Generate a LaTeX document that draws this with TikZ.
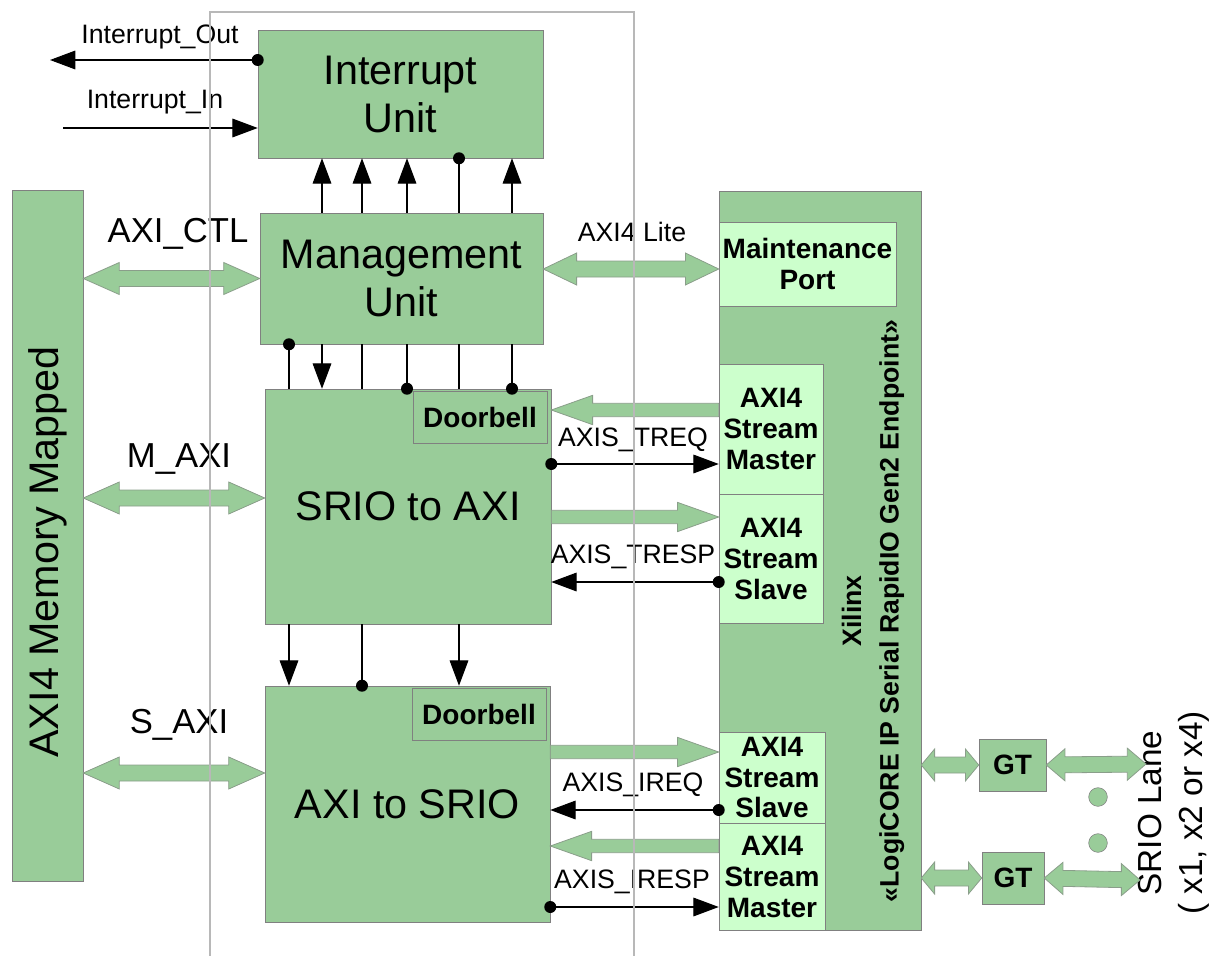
\documentclass[tikz,border=0pt]{standalone}
\usepackage{fontspec}
\setmainfont{Liberation Sans}
\usetikzlibrary{arrows.meta, positioning, calc}

\definecolor{blockgreen}{HTML}{99CC99}
\definecolor{portgreen}{HTML}{CCFFCC}
\definecolor{edgegray}{HTML}{808080}

% fat bus arrow, heads at both ends
\newcommand{\bothway}[3][27pt]{%
  \path[bus] let \p1=(#2), \p2=(#3), \p3=($(\p1)!#1!(\p2)$), \p4=($(\p2)!#1!(\p1)$) in
    (\p1) -- (\x3,\y3+12pt) -- (\x3,\y3+6pt) -- (\x4,\y4+6pt) -- (\x4,\y4+12pt) -- (\p2)
    -- (\x4,\y4-12pt) -- (\x4,\y4-6pt) -- (\x3,\y3-6pt) -- (\x3,\y3-12pt) -- cycle;}
% fat bus arrow, head at the second end
\newcommand{\oneway}[3][31pt]{%
  \path[bus] let \p1=(#2), \p2=(#3), \p3=($(\p2)!#1!(\p1)$) in
    (\x1,\y1+5pt) -- (\x3,\y3+5pt) -- (\x3,\y3+11pt) -- (\p2)
    -- (\x3,\y3-11pt) -- (\x3,\y3-5pt) -- (\x1,\y1-5pt) -- cycle;}

\begin{document}
\begin{tikzpicture}[
x=0.75pt, y=-0.75pt,
block/.style={draw=edgegray, fill=blockgreen, inner sep=0pt, align=center, font=\fontsize{31}{36}\selectfont},
port/.style={draw=edgegray, fill=portgreen, inner sep=0pt, align=center, font=\bfseries\fontsize{21}{23}\selectfont},
bus/.style={draw=edgegray!60!blockgreen, fill=blockgreen, line width=0.6pt},
wire/.style={draw=black, line width=0.8pt},
arr/.style={-{Triangle[length=19pt, width=14pt]}},
lbl/.style={inner sep=0pt, font=\fontsize{20}{24}\selectfont},
biglbl/.style={inner sep=0pt, font=\fontsize{26}{30}\selectfont},
frame/.style={draw=black!28, line width=0.8pt},
lanedot/.style={circle, draw=edgegray, fill=blockgreen, minimum size=14pt, inner sep=0pt}
]
\useasboundingbox (0,0) rectangle (1214,956);

% main blocks
\node[block, minimum width=213.75pt, minimum height=96pt] (intu) at (400.5,94) {Interrupt\\Unit};
\node[block, minimum width=212.25pt, minimum height=98.25pt] (mgmt) at (401.5,278.5) {Management\\Unit};
\node[block, minimum width=214.5pt, minimum height=176.25pt] (srio) at (408,506.5) {SRIO to AXI};
\node[block, minimum width=213.75pt, minimum height=177pt] (axis) at (407.5,804) {AXI to SRIO};
\node[port, fill=blockgreen, minimum width=100.5pt, minimum height=39pt, below left=2pt and 3pt of srio.north east] (door1) {Doorbell};
\node[port, fill=blockgreen, minimum width=100.5pt, minimum height=39pt, below left=2pt and 3pt of axis.north east] (door2) {Doorbell};

\node[block, minimum width=53.25pt, minimum height=518.25pt] (mem) at (47.5,535.5) {};
\node[rotate=90, font=\fontsize{31}{36}\selectfont] (memtext) at (47.5,552) {AXI4 Memory Mapped};

% Xilinx endpoint
\node[block, minimum width=151.5pt, minimum height=554.25pt] (xil) at (820,560.5) {};
\node[rotate=90, align=center, font=\bfseries\fontsize{20}{28}\selectfont] (xiltext) at (873,611)
  {Xilinx\\«LogiCORE IP Serial RapidIO Gen2 Endpoint»};
\node[port, minimum width=132.75pt, minimum height=63pt] (maint) at (807.5,264) {Maintenance\\Port};
\node[port, minimum width=78pt, minimum height=97.5pt] (tm) at (771,429) {AXI4\\Stream\\Master};
\node[port, minimum width=78pt, minimum height=96.75pt, below=0pt of tm] (ts) {AXI4\\Stream\\Slave};
\node[port, minimum width=79.5pt, minimum height=68.25pt] (is) at (772,777.5) {AXI4\\Stream\\Slave};
\node[port, minimum width=79.5pt, minimum height=80.25pt, below=0pt of is] (im) {AXI4\\Stream\\Master};

% transceivers
\node[port, fill=blockgreen, minimum width=50.25pt, minimum height=39pt] (gt1) at (1012.5,765) {GT};
\node[port, fill=blockgreen, minimum width=46.5pt, minimum height=39pt] (gt2) at (1013,878) {GT};
\node[lanedot] (dot1) at (1098,797) {};
\node[lanedot] (dot2) at (1098,843) {};
\coordinate (lane1) at (1146,764);
\coordinate (lane2) at (1140,880);
\node[rotate=90, align=center, font=\fontsize{25}{31}\selectfont] (lanetext) at (1174,813) {SRIO Lane\\( x1, x2 or x4)};

% labels
\node[lbl] (lblout) at (160,37) {Interrupt\_Out};
\node[lbl] (lblin) at (155,102) {Interrupt\_In};
\node[biglbl] (lblctl) at (178,234) {AXI\_CTL};
\node[biglbl] (lblm) at (179,459) {M\_AXI};
\node[biglbl] (lbls) at (179,725) {S\_AXI};
\node[lbl] (lbllite) at (632,232) {AXI4 Lite};
\node[lbl] (lbltreq) at (633,440) {AXIS\_TREQ};
\node[lbl] (lbltresp) at (633,557) {AXIS\_TRESP};
\node[lbl] (lblireq) at (633,785) {AXIS\_IREQ};
\node[lbl] (lbliresp) at (632,882) {AXIS\_IRESP};

% buses
\bothway{mem.east |- mgmt.west}{mgmt.west}
\bothway[25pt]{mgmt.east |- 0,269}{maint.west |- 0,269}
\bothway{mem.east |- 0,498}{srio.west |- 0,498}
\bothway{mem.east |- 0,773}{axis.west |- 0,773}
\oneway{tm.west |- 0,410}{srio.east |- 0,410}
\oneway{srio.east |- 0,517}{ts.west |- 0,517}
\oneway{axis.east |- 0,752}{is.west |- 0,752}
\oneway{im.west |- 0,846}{axis.east |- 0,846}
\bothway[10pt]{xil.east |- gt1.west}{gt1.west}
\bothway[14pt]{gt1.east}{lane1}
\bothway[10pt]{xil.east |- gt2.west}{gt2.west}
\bothway[14pt]{gt2.east}{lane2}

% interrupt signals
\coordinate (intout) at (50,60);
\coordinate (intin) at (63,128);
\draw[wire, arr] (intu.west |- intout) -- (intout);
\fill (intu.west |- intout) circle[radius=4.5pt];
\draw[wire, arr] (intin) -- (intu.west |- intin);

% management to interrupt unit
\foreach \x in {322,362,407,512}
  \draw[wire, arr] (\x,0 |- mgmt.north) -- (\x,0 |- intu.south);
\draw[wire] (459,0 |- mgmt.north) -- (459,0 |- intu.south);
\fill (459,0 |- intu.south) circle[radius=4.5pt];

% management to SRIO to AXI
\draw[wire] (289,0 |- mgmt.south) -- (289,0 |- srio.north);
\fill (289,0 |- mgmt.south) circle[radius=4.5pt];
\draw[wire, arr] (322,0 |- mgmt.south) -- (322,0 |- srio.north);
\foreach \x in {362,407,459,512}
  \draw[wire] (\x,0 |- mgmt.south) -- (\x,0 |- srio.north);
\foreach \x in {407,512}
  \fill (\x,0 |- srio.north) circle[radius=4.5pt];

% SRIO to AXI to AXI to SRIO
\foreach \x in {289,459}
  \draw[wire, arr] (\x,0 |- srio.south) -- (\x,0 |- axis.north);
\draw[wire] (362,0 |- srio.south) -- (362,0 |- axis.north);
\fill (362,0 |- axis.north) circle[radius=4.5pt];

% stream signals
\draw[wire, arr] (srio.east |- 0,464) -- (tm.west |- 0,464);
\fill (srio.east |- 0,464) circle[radius=4.5pt];
\draw[wire, arr] (ts.west |- 0,582) -- (srio.east |- 0,582);
\fill (ts.west |- 0,582) circle[radius=4.5pt];
\draw[wire, arr] (is.west |- 0,810) -- (axis.east |- 0,810);
\fill (is.west |- 0,810) circle[radius=4.5pt];
\draw[wire, arr] (axis.east |- 0,907) -- (im.west |- 0,907);
\fill (axis.east |- 0,907) circle[radius=4.5pt];

% boundary
\draw[frame] (210,956) -- (210,12) -- (634,12) -- (634,956);

\end{tikzpicture}
\end{document}
